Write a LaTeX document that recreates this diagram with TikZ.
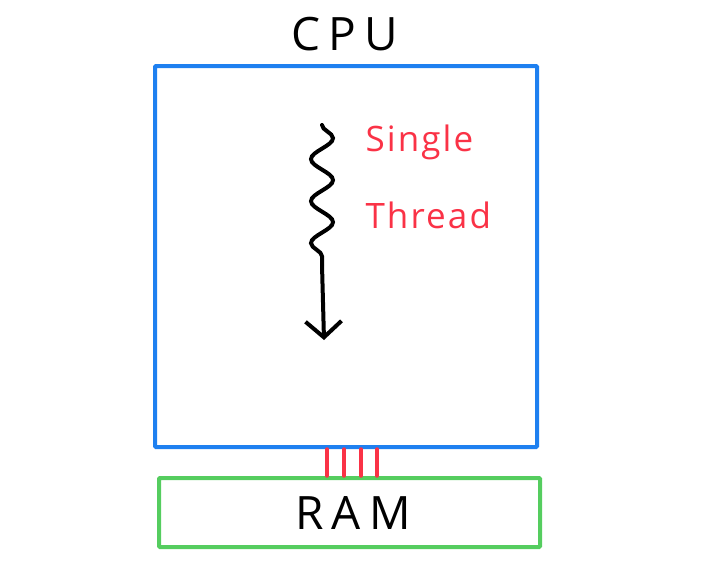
\documentclass[tikz,border=0pt]{standalone}
\usepackage{fontspec}
\setmainfont{Open Sans}
\newfontfamily\handfont[LetterSpace=18]{Open Sans}
\newfontfamily\labelfont[LetterSpace=6]{Open Sans}
\usetikzlibrary{arrows.meta,decorations.pathmorphing}
\definecolor{cpublue}{RGB}{30,128,240}
\definecolor{ramgreen}{RGB}{85,205,95}
\definecolor{wirered}{RGB}{250,50,70}
\tikzset{
  chip/.style={line width=4pt, rounded corners=1pt},
  wire/.style={draw=wirered, line width=3.5pt, line cap=round},
  bigtext/.style={font=\handfont\fontsize{46}{46}\selectfont}
}
\begin{document}
\begin{tikzpicture}[x=1pt,y=-1pt]
                \useasboundingbox (0,0) rectangle (711,570);
                % the boxes
                \draw[chip, draw=cpublue]  (155,66)  rectangle (537,447);
                \draw[chip, draw=ramgreen] (159,478) rectangle (540,547);
                \node[bigtext] (cpu) at (345,34) {CPU};
                \node[bigtext] (ram) at (353,513) {RAM};
                % the bus
                \foreach \x in {327,344,361,377}
                  \draw[wire] (\x,449) -- (\x,476);
                % the thread
                \coordinate (t1) at (322,125);
                \coordinate (t2) at (322,265);
                \coordinate (t3) at (324,340);
                \draw[line width=4pt, line cap=round,
                      decorate, decoration={snake, amplitude=11pt, segment length=42pt}]
                     (t1) -- (t2);
                \draw[line width=4pt, line cap=round,
                      -{Straight Barb[length=16pt,width=36pt,line width=4pt]}]
                     (t2) -- (t3);
                \node[text=wirered, align=left, font=\labelfont\fontsize{35}{77}\selectfont,
                      anchor=base west] (label) at (362,228) {Single\\Thread};
              \end{tikzpicture}
\end{document}
